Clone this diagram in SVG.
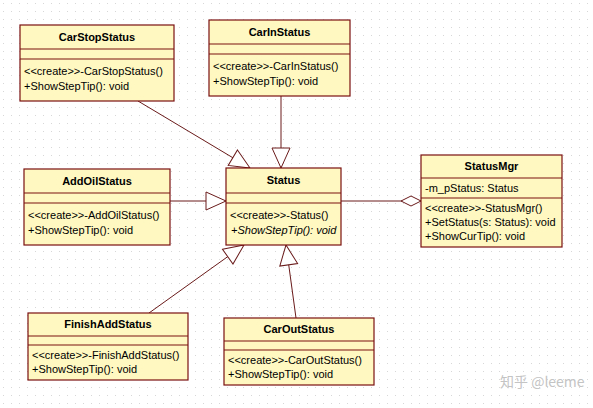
<svg xmlns="http://www.w3.org/2000/svg" width="593" height="408" viewBox="0 0 593 408">
<defs>
<pattern id="grid" width="8" height="8" patternUnits="userSpaceOnUse">
<rect x="3" y="3" width="1" height="1" fill="#d8d8d8"/>
</pattern>
<marker id="tri" markerUnits="userSpaceOnUse" markerWidth="22" markerHeight="20" refX="20" refY="9" orient="auto" overflow="visible">
<path d="M0,0 L20,9 L0,18 Z" fill="#fff" stroke="#6a1a1a" stroke-width="1"/>
</marker>
<marker id="dia" markerUnits="userSpaceOnUse" markerWidth="22" markerHeight="12" refX="20" refY="5" orient="auto" overflow="visible">
<path d="M0,5 L10,0 L20,5 L10,10 Z" fill="#fff" stroke="#6a1a1a" stroke-width="1"/>
</marker>
</defs>
<style>
.box{fill:#fff8c0;stroke:#7a1010;stroke-width:1.2}
.sep{stroke:#7a1010;stroke-width:1}
.t{font-family:"Liberation Sans",Arial,sans-serif;font-size:11px;fill:#000}
.b{font-weight:bold;text-anchor:middle}
.i{font-style:italic}
.c{stroke:#6a1a1a;stroke-width:1;fill:none}
</style>
<rect width="593" height="408" fill="#fff"/>
<rect width="593" height="408" fill="url(#grid)"/>

<g id="connectors">
<line class="c" x1="138" y1="101" x2="250" y2="168" marker-end="url(#tri)"/>
<line class="c" x1="281" y1="96" x2="281" y2="168" marker-end="url(#tri)"/>
<line class="c" x1="170" y1="201" x2="226" y2="201" marker-end="url(#tri)"/>
<line class="c" x1="341" y1="201" x2="421" y2="201" marker-end="url(#dia)"/>
<line class="c" x1="149" y1="313" x2="244" y2="245" marker-end="url(#tri)"/>
<line class="c" x1="296" y1="318" x2="286" y2="245" marker-end="url(#tri)"/>
</g>

<g id="CarStopStatus">
<rect class="box" x="20" y="25" width="154" height="76"/>
<line class="sep" x1="20" y1="49" x2="174" y2="49"/>
<line class="sep" x1="20" y1="59" x2="174" y2="59"/>
<text class="t b" x="97" y="41">CarStopStatus</text>
<text class="t" x="24" y="75">&lt;&lt;create&gt;&gt;-CarStopStatus()</text>
<text class="t" x="24" y="90">+ShowStepTip(): void</text>
</g>

<g id="CarInStatus">
<rect class="box" x="209" y="20" width="141" height="76"/>
<line class="sep" x1="209" y1="44" x2="350" y2="44"/>
<line class="sep" x1="209" y1="54" x2="350" y2="54"/>
<text class="t b" x="279.5" y="36">CarInStatus</text>
<text class="t" x="213" y="70">&lt;&lt;create&gt;&gt;-CarInStatus()</text>
<text class="t" x="213" y="85">+ShowStepTip(): void</text>
</g>

<g id="AddOilStatus">
<rect class="box" x="24" y="169" width="146" height="76"/>
<line class="sep" x1="24" y1="193" x2="170" y2="193"/>
<line class="sep" x1="24" y1="203" x2="170" y2="203"/>
<text class="t b" x="97" y="185">AddOilStatus</text>
<text class="t" x="28" y="219">&lt;&lt;create&gt;&gt;-AddOilStatus()</text>
<text class="t" x="28" y="234">+ShowStepTip(): void</text>
</g>

<g id="Status">
<rect class="box" x="226" y="168" width="115" height="77"/>
<line class="sep" x1="226" y1="193" x2="341" y2="193"/>
<line class="sep" x1="226" y1="203" x2="341" y2="203"/>
<text class="t b" x="283.5" y="184">Status</text>
<text class="t" x="230" y="219">&lt;&lt;create&gt;&gt;-Status()</text>
<text class="t i" x="231" y="234">+ShowStepTip(): void</text>
</g>

<g id="StatusMgr">
<rect class="box" x="421" y="155" width="141" height="92"/>
<line class="sep" x1="421" y1="178" x2="562" y2="178"/>
<line class="sep" x1="421" y1="198" x2="562" y2="198"/>
<text class="t b" x="491.5" y="170">StatusMgr</text>
<text class="t" x="425" y="192">-m_pStatus: Status</text>
<text class="t" x="425" y="212">&lt;&lt;create&gt;&gt;-StatusMgr()</text>
<text class="t" x="425" y="226">+SetStatus(s: Status): void</text>
<text class="t" x="425" y="240">+ShowCurTip(): void</text>
</g>

<g id="FinishAddStatus">
<rect class="box" x="28" y="313" width="160" height="67"/>
<line class="sep" x1="28" y1="336" x2="188" y2="336"/>
<line class="sep" x1="28" y1="345" x2="188" y2="345"/>
<text class="t b" x="108" y="328">FinishAddStatus</text>
<text class="t" x="32" y="359">&lt;&lt;create&gt;&gt;-FinishAddStatus()</text>
<text class="t" x="32" y="373">+ShowStepTip(): void</text>
</g>

<g id="CarOutStatus">
<rect class="box" x="224" y="318" width="150" height="67"/>
<line class="sep" x1="224" y1="341" x2="374" y2="341"/>
<line class="sep" x1="224" y1="350" x2="374" y2="350"/>
<text class="t b" x="299" y="333">CarOutStatus</text>
<text class="t" x="228" y="364">&lt;&lt;create&gt;&gt;-CarOutStatus()</text>
<text class="t" x="228" y="378">+ShowStepTip(): void</text>
</g>

<text x="500" y="387" font-family="'Noto Sans CJK SC','Noto Sans',sans-serif" font-size="14" fill="#c4c4c4">知乎 @leeme</text>
</svg>
